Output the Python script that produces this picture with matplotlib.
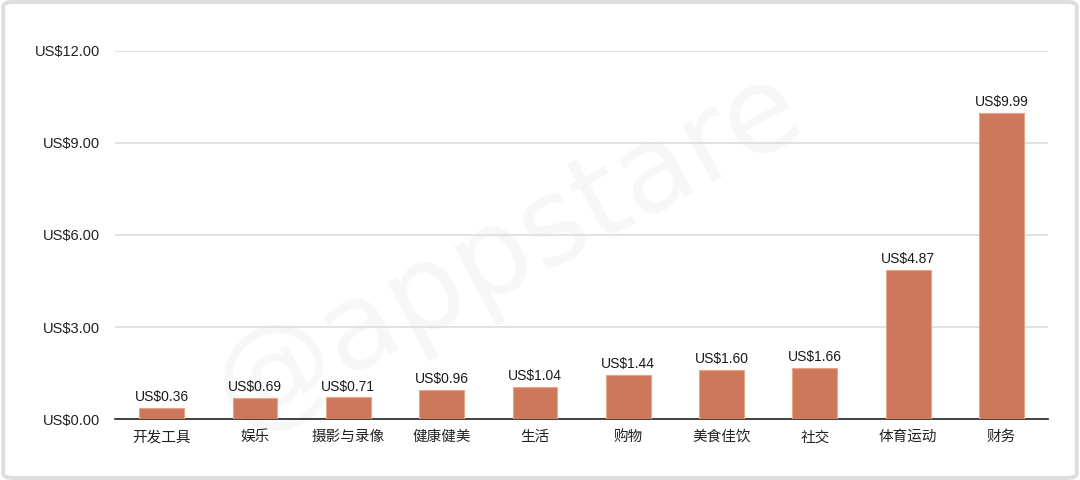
import matplotlib
matplotlib.use('Agg')
import matplotlib.pyplot as plt
import matplotlib.ticker as mticker
from matplotlib.patches import FancyBboxPatch

plt.rcParams['font.family'] = ['Noto Sans CJK SC', 'DejaVu Sans']

categories = ['开发工具', '娱乐', '摄影与录像', '健康健美', '生活', '购物', '美食佳饮', '社交', '体育运动', '财务']
prices = [0.36, 0.69, 0.71, 0.96, 1.04, 1.44, 1.60, 1.66, 4.87, 9.99]
yticks = [0, 3, 6, 9, 12]

fig = plt.figure(figsize=(10.8, 4.8), dpi=100)
fig.patch.set_facecolor('white')

# light rounded frame around the picture
frame = FancyBboxPatch((0.003, 0.004), 0.994, 0.992, boxstyle='round,pad=0,rounding_size=0.01',
                       transform=fig.transFigure, facecolor='white', edgecolor='#dedede',
                       linewidth=3, zorder=-10)
fig.patches.append(frame)

# faint watermark
fig.text(0.47, 0.48, '@appstare', fontsize=86, color='#f7f7f7', rotation=28,
         ha='center', va='center', family='DejaVu Sans', zorder=-5)

ax = fig.add_axes([0.1065, 0.127, 0.864, 0.767])
ax.patch.set_alpha(0)

x = range(len(categories))
bars = ax.bar(x, prices, width=0.48, color='#CD785A', edgecolor='#E9A488', linewidth=0.8, zorder=3)

for xi, v in zip(x, prices):
    ax.text(xi, v + 0.12, f'US${v:.2f}', ha='center', va='bottom', fontsize=10,
            color='#1a1a1a', family=['Liberation Sans', 'DejaVu Sans'], zorder=4)

ax.set_xlim(-0.5, len(categories) - 0.5)
ax.set_ylim(0, 12)
ax.set_yticks(yticks)
ax.yaxis.set_major_formatter(mticker.FuncFormatter(lambda v, p: f'US${v:.2f}'))
ax.grid(axis='y', color='#dddddd', linewidth=1.2, zorder=0)
ax.set_xticks(list(x))
ax.set_xticklabels(categories, fontsize=10.5, color='#222222')

for lbl in ax.get_yticklabels():
    lbl.set_family(['Liberation Sans', 'DejaVu Sans'])
    lbl.set_fontsize(10.5)
    lbl.set_color('#222222')

for s in ['top', 'right', 'left']:
    ax.spines[s].set_visible(False)
ax.spines['bottom'].set_color('#222222')
ax.spines['bottom'].set_linewidth(1.2)
ax.tick_params(axis='both', length=0)
ax.tick_params(axis='y', pad=11)
ax.tick_params(axis='x', pad=8)

fig.savefig('out.png', dpi=100)
